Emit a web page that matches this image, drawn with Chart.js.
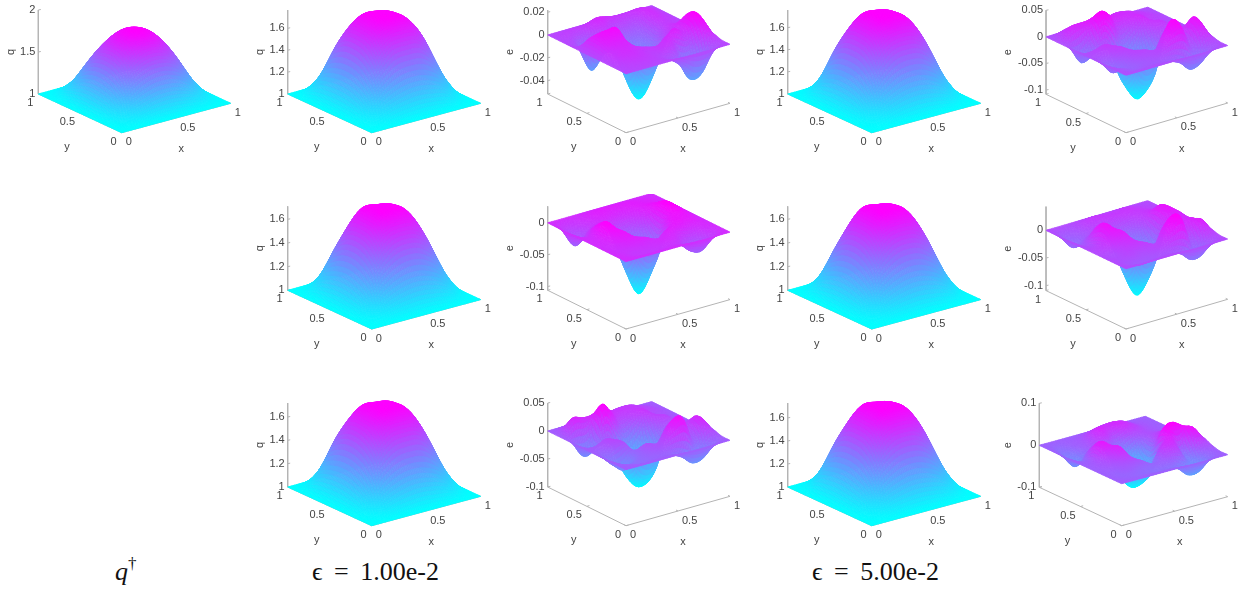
<!DOCTYPE html>
<html>
<head>
<meta charset="utf-8">
<title>q and e surfaces</title>
<script src="https://cdn.jsdelivr.net/npm/chart.js@4/dist/chart.umd.min.js"></script>
<style>
html, body { margin: 0; padding: 0; background: #fff; overflow: hidden; width: 1248px; height: 592px; }
canvas { position: absolute; }
.cap { position: absolute; top: 557px; font: 26px/30px 'Liberation Serif', 'DejaVu Serif', serif; color: #111; white-space: pre; word-spacing: 5px; }
.cap sup { font-size: 17px; line-height: 0; vertical-align: 11px; }
</style>
</head>
<body>
<span class="cap" style="left:115px"><i>q</i><sup>†</sup></span>
<span class="cap" style="left:312px">ϵ = 1.00e-2</span>
<span class="cap" style="left:812px">ϵ = 5.00e-2</span>
<script>
// heights, rows run along y, columns along x
var qExact = [
	[1,1,1,1,1,1,1,1,1],
	[1,1.07,1.16,1.22,1.24,1.22,1.16,1.07,1],
	[1,1.16,1.39,1.53,1.57,1.53,1.39,1.16,1],
	[1,1.22,1.53,1.72,1.78,1.72,1.53,1.22,1],
	[1,1.24,1.57,1.77,1.83,1.77,1.57,1.24,1],
	[1,1.22,1.53,1.71,1.77,1.70,1.53,1.22,1],
	[1,1.16,1.39,1.53,1.57,1.53,1.39,1.16,1],
	[1,1.07,1.16,1.22,1.24,1.22,1.16,1.07,1],
	[1,1,1,1,1,1,1,1,1]
];
var qRow1Eps1 = [
	[1,1,1,1,1,1,1,1,1],
	[1,1.07,1.17,1.22,1.24,1.22,1.17,1.06,1],
	[1,1.17,1.41,1.55,1.57,1.55,1.40,1.16,1],
	[1,1.23,1.56,1.72,1.75,1.72,1.55,1.22,1],
	[1,1.25,1.60,1.75,1.77,1.74,1.56,1.24,1],
	[1,1.24,1.58,1.74,1.75,1.70,1.55,1.22,1],
	[1,1.20,1.46,1.58,1.59,1.55,1.40,1.16,1],
	[1,1.09,1.20,1.25,1.25,1.22,1.17,1.07,1],
	[1,1,1,1,1,1,1,1,1]
];
var qRow2Eps1 = [
	[1,1,1,1,1,1,1,1,1],
	[1,1.06,1.16,1.21,1.23,1.21,1.16,1.06,1],
	[1,1.16,1.39,1.52,1.55,1.52,1.39,1.16,1],
	[1,1.21,1.52,1.70,1.72,1.70,1.52,1.21,1],
	[1,1.23,1.55,1.72,1.74,1.72,1.53,1.23,1],
	[1,1.21,1.52,1.71,1.715,1.67,1.50,1.21,1],
	[1,1.16,1.39,1.52,1.55,1.52,1.39,1.16,1],
	[1,1.06,1.16,1.21,1.23,1.21,1.16,1.06,1],
	[1,1,1,1,1,1,1,1,1]
];
var qRow3Eps1 = [
	[1,1,1,1,1,1,1,1,1],
	[1,1.06,1.16,1.21,1.23,1.21,1.16,1.06,1],
	[1,1.16,1.40,1.53,1.55,1.53,1.39,1.16,1],
	[1,1.22,1.53,1.70,1.72,1.70,1.52,1.21,1],
	[1,1.24,1.57,1.72,1.74,1.72,1.53,1.23,1],
	[1,1.23,1.55,1.715,1.72,1.68,1.50,1.21,1],
	[1,1.19,1.44,1.55,1.56,1.53,1.39,1.16,1],
	[1,1.08,1.19,1.24,1.24,1.21,1.16,1.06,1],
	[1,1,1,1,1,1,1,1,1]
];
var qRow1Eps5 = [
	[1,1,1,1,1,1,1,1,1],
	[1,1.06,1.16,1.22,1.24,1.22,1.16,1.06,1],
	[1,1.16,1.40,1.54,1.57,1.54,1.40,1.16,1],
	[1,1.22,1.55,1.72,1.75,1.72,1.54,1.22,1],
	[1,1.24,1.58,1.75,1.77,1.74,1.56,1.24,1],
	[1,1.23,1.56,1.74,1.75,1.70,1.54,1.22,1],
	[1,1.18,1.44,1.56,1.58,1.54,1.40,1.16,1],
	[1,1.07,1.18,1.23,1.24,1.22,1.16,1.06,1],
	[1,1,1,1,1,1,1,1,1]
];
var qRow2Eps5 = [
	[1,1,1,1,1,1,1,1,1],
	[1,1.06,1.16,1.21,1.23,1.21,1.16,1.06,1],
	[1,1.16,1.39,1.52,1.55,1.52,1.39,1.16,1],
	[1,1.21,1.52,1.70,1.72,1.70,1.52,1.21,1],
	[1,1.23,1.55,1.72,1.74,1.72,1.53,1.23,1],
	[1,1.21,1.52,1.71,1.715,1.67,1.50,1.21,1],
	[1,1.16,1.39,1.52,1.55,1.52,1.39,1.16,1],
	[1,1.06,1.16,1.21,1.23,1.21,1.16,1.06,1],
	[1,1,1,1,1,1,1,1,1]
];
var qRow3Eps5 = [
	[1,1,1,1,1,1,1,1,1],
	[1,1.06,1.16,1.21,1.23,1.21,1.16,1.06,1],
	[1,1.16,1.39,1.53,1.56,1.53,1.39,1.16,1],
	[1,1.21,1.53,1.71,1.73,1.71,1.53,1.21,1],
	[1,1.23,1.56,1.73,1.75,1.73,1.54,1.23,1],
	[1,1.22,1.54,1.725,1.73,1.68,1.51,1.21,1],
	[1,1.18,1.42,1.54,1.56,1.53,1.39,1.16,1],
	[1,1.07,1.17,1.22,1.23,1.21,1.16,1.06,1],
	[1,1,1,1,1,1,1,1,1]
];
// errors, in thousandths
var eRow1Eps1 = [
	[0,0,0,0,0,0,0,0,0,0,0],
	[0,2,3,2,0,-4,-12,-26,-24,-4,0],
	[0,5,6,4,2,4,2,-16,-12,12,2],
	[0,6,8,6,2,-2,6,10,4,20,3],
	[0,10,12,8,-20,-32,-22,2,6,16,2],
	[0,12,16,12,-34,-52,-36,-6,4,4,0],
	[0,8,4,-4,-24,-32,-22,-10,2,2,0],
	[0,-6,-26,-14,-6,-14,-14,-8,4,3,0],
	[0,-2,-12,0,4,-4,-4,-4,6,4,0],
	[0,2,2,4,8,6,4,4,6,4,0],
	[0,0,0,0,0,0,0,0,0,0,0]
];
var eRow2Eps1 = [
	[0,0,0,0,0,0,0,0,0,0,0],
	[0,-3,-6,-6,-5,-4,-8,-22,-26,-8,0],
	[0,-3,-4,-2,-2,0,0,-10,-14,-2,0],
	[0,-2,4,6,0,-12,2,8,6,4,0],
	[0,2,12,6,-42,-66,-48,4,12,8,0],
	[0,2,22,-8,-68,-104,-68,-12,20,12,0],
	[0,-2,14,0,-50,-64,-42,-8,20,12,0],
	[0,-14,0,2,-14,-24,-14,2,12,6,0],
	[0,-28,-14,-2,2,0,2,6,6,4,0],
	[0,-10,-6,2,6,6,6,6,4,2,0],
	[0,0,0,0,0,0,0,0,0,0,0]
];
var eRow3Eps1 = [
	[0,0,0,0,0,0,0,0,0,0,0],
	[0,-4,-8,-6,-4,-6,-14,-30,-30,-8,0],
	[0,-10,-14,-6,2,8,28,38,-6,22,4],
	[0,-18,-30,-8,2,-8,18,34,6,28,6],
	[0,-8,6,2,-55,-70,-52,16,4,12,2],
	[0,2,10,-10,-70,-90,-70,-12,6,6,0],
	[0,-14,-8,-8,-52,-66,-46,4,14,4,0],
	[0,-26,-16,48,24,-10,4,20,8,4,0],
	[0,28,24,30,32,20,18,18,12,6,0],
	[0,12,14,8,20,14,16,16,10,4,0],
	[0,0,0,0,0,0,0,0,0,0,0]
];
var eRow1Eps5 = [
	[0,0,0,0,0,0,0,0,0,0,0],
	[0,-6,-8,-6,-6,-8,-16,-34,-30,-6,0],
	[0,-8,-12,-6,0,8,26,34,-6,26,4],
	[0,-22,-10,6,2,-10,22,44,2,38,8],
	[0,-6,8,4,-50,-76,-60,18,4,14,2],
	[0,6,10,-12,-76,-108,-76,-14,4,6,0],
	[0,-14,-10,-10,-60,-72,-46,2,14,4,0],
	[0,-30,-10,44,30,-12,2,20,8,4,0],
	[0,20,26,34,38,24,20,18,12,6,0],
	[0,14,16,10,22,14,18,16,10,4,0],
	[0,0,0,0,0,0,0,0,0,0,0]
];
var eRow2Eps5 = [
	[0,0,0,0,0,0,0,0,0,0,0],
	[0,-6,-10,-8,-6,-6,-10,-26,-28,-6,0],
	[0,-2,2,-2,2,6,26,38,-12,24,4],
	[0,-2,8,14,4,-10,22,38,14,22,8],
	[0,8,26,20,-46,-72,-50,10,14,18,6],
	[0,4,36,-4,-72,-109,-72,-12,28,22,2],
	[0,-4,26,0,-50,-68,-46,-6,30,16,0],
	[0,-12,2,4,-14,-24,-14,4,14,8,0],
	[0,-22,-12,2,6,6,8,10,8,4,0],
	[0,-12,-6,6,10,8,8,10,6,2,0],
	[0,0,0,0,0,0,0,0,0,0,0]
];
var eRow3Eps5 = [
	[0,0,0,0,0,0,0,0,0,0,0],
	[0,-2,-4,-6,-8,-8,-14,-36,-36,-8,0],
	[0,-2,2,-2,-4,-2,8,6,-22,4,6],
	[0,2,8,14,0,-20,18,30,-4,42,14],
	[0,6,20,30,-45,-62,-48,40,52,36,6],
	[0,4,40,10,-62,-88,-62,4,30,8,2],
	[0,-8,22,8,-46,-58,-42,0,12,6,0],
	[0,-30,-6,12,14,-10,6,10,6,2,0],
	[0,-16,-2,8,30,24,28,20,8,2,0],
	[0,-6,0,4,14,20,22,18,6,2,0],
	[0,0,0,0,0,0,0,0,0,0,0]
];

var xyTicks = [0, 0.5, 1];
var zTicksQExact = [1, 1.5, 2];
var zTicksQ = [1, 1.2, 1.4, 1.6];
var zTicksE1 = [-0.04, -0.02, 0, 0.02];
var zTicksE2 = [-0.1, -0.05, 0];
var zTicksE3 = [-0.1, -0.05, 0, 0.05];
var zTicksE4 = [-0.1, 0, 0.1];

var TICK_COLOR = '#444444';
var AXIS_COLOR = '#b4b4b4';
var TICK_FONT = "11px 'Liberation Sans', Arial, sans-serif";

// column frames: front corner x, direction of the x axis and y axis, z label offset
var colQ1 = { ox: 121.7, ex: [109, -29.4], ey: [-83.4, -38.7], zl: -27 };
var colQ2 = { ox: 371.7, ex: [109, -29.4], ey: [-84, -38.7], zl: -28 };
var colE2 = { ox: 626, ex: [104, -29.4], ey: [-78.3, -38.7], zl: -38 };
var colQ4 = { ox: 871.7, ex: [109, -29.4], ey: [-84, -38.7], zl: -28 };
var colE5 = { ox: 1126, ex: [101.7, -29.7], ey: [-80, -38.4], zl: -38 };
var colE6 = { ox: 1121.7, ex: [106, -29], ey: [-82.4, -38.4], zl: -31 };
var ROW1 = 132.7, ROW2 = 329, ROW3 = 525.7;

function panel(col, oy, grid, scale, zRange, ticks, name, smooth) {
	return { col: col, oy: oy, grid: grid, scale: scale, zRange: zRange, ticks: ticks, name: name, smooth: smooth };
}

var panels = [
	panel(colQ1, ROW1, qExact, 1, [1, 2], zTicksQExact, 'q', 8),
	panel(colQ2, ROW1, qRow1Eps1, 1, [1, 1.767], zTicksQ, 'q', 8),
	panel(colE2, ROW1, eRow1Eps1, 0.001, [-0.0518, 0.0219], zTicksE1, 'e', 6),
	panel(colQ4, ROW1, qRow1Eps5, 1, [1, 1.76], zTicksQ, 'q', 8),
	panel(colE5, ROW1, eRow1Eps5, 0.001, [-0.108, 0.05], zTicksE3, 'e', 6),
	panel(colQ2, ROW2, qRow2Eps1, 1, [1, 1.71], zTicksQ, 'q', 8),
	panel(colE2, ROW2, eRow2Eps1, 0.001, [-0.106, 0.026], zTicksE2, 'e', 6),
	panel(colQ4, ROW2, qRow2Eps5, 1, [1, 1.71], zTicksQ, 'q', 8),
	panel(colE5, ROW2, eRow2Eps5, 0.001, [-0.109, 0.043], zTicksE2, 'e', 6),
	panel(colQ2, ROW3, qRow3Eps1, 1, [1, 1.72], zTicksQ, 'q', 8),
	panel(colE2, ROW3, eRow3Eps1, 0.001, [-0.1, 0.05], zTicksE3, 'e', 6),
	panel(colQ4, ROW3, qRow3Eps5, 1, [1, 1.73], zTicksQ, 'q', 8),
	panel(colE6, ROW3, eRow3Eps5, 0.001, [-0.1, 0.1], zTicksE4, 'e', 6)
];

// catmull-rom along one line, same idea as the line tension option
function smoothLine(vals, n) {
	var out = [];
	for (var i = 0; i < vals.length - 1; i++) {
		var a = vals[Math.max(i - 1, 0)], b = vals[i], c = vals[i + 1], d = vals[Math.min(i + 2, vals.length - 1)];
		for (var k = 0; k < n; k++) {
			var t = k / n;
			out.push(0.5 * (2 * b + (c - a) * t + (2 * a - 5 * b + 4 * c - d) * t * t + (3 * b - a - 3 * c + d) * t * t * t));
		}
	}
	out.push(vals[vals.length - 1]);
	return out;
}

function smoothGrid(grid, n) {
	var rows = grid.map(function (r) { return smoothLine(r, n); });
	var cols = [];
	for (var i = 0; i < rows[0].length; i++) {
		cols.push(smoothLine(rows.map(function (r) { return r[i]; }), n));
	}
	return cols; // cols[i][j], i along x, j along y
}

function coolColor(t) {
	t = Math.max(0, Math.min(1, t));
	return 'rgb(' + Math.round(255 * t) + ',' + Math.round(255 * (1 - t)) + ',255)';
}

var surfacePlugin = {
	id: 'surface',
	afterDatasetsDraw: function (chart) {
		var opt = chart.options.plugins.surface;
		var pts = chart.data.datasets[0].data;
		var n = opt.size, ctx = chart.ctx, sx = chart.scales.x, sy = chart.scales.y;
		function at(i, j) { return pts[i * n + j]; }
		ctx.save();
		ctx.lineWidth = 0.8;
		ctx.lineJoin = 'round';
		for (var i = n - 2; i >= 0; i--) {
			for (var j = n - 2; j >= 0; j--) {
				var q = [at(i, j), at(i + 1, j), at(i + 1, j + 1), at(i, j + 1)];
				var z = (q[0].z + q[1].z + q[2].z + q[3].z) / 4;
				var c = coolColor((z - opt.cmin) / (opt.cmax - opt.cmin));
				ctx.fillStyle = c;
				ctx.strokeStyle = c;
				ctx.beginPath();
				for (var k = 0; k < 4; k++) {
					var px = sx.getPixelForValue(q[k].x), py = sy.getPixelForValue(q[k].y);
					if (k == 0) ctx.moveTo(px, py); else ctx.lineTo(px, py);
				}
				ctx.closePath();
				ctx.fill();
				ctx.stroke();
			}
		}
		ctx.restore();
	}
};

var labelPlugin = {
	id: 'axisText',
	afterDraw: function (chart) {
		var opt = chart.options.plugins.axisText;
		var ctx = chart.ctx, sx = chart.scales.x, sy = chart.scales.y;
		ctx.save();
		ctx.font = TICK_FONT;
		ctx.fillStyle = TICK_COLOR;
		ctx.textBaseline = 'middle';
		opt.items.forEach(function (it) {
			var px = sx.getPixelForValue(it.x), py = sy.getPixelForValue(it.y);
			ctx.textAlign = it.align;
			if (it.rotate) {
				ctx.save();
				ctx.translate(px, py);
				ctx.rotate(-Math.PI / 2);
				ctx.fillText(it.text, 0, 0);
				ctx.restore();
			} else {
				ctx.fillText(it.text, px, py);
			}
		});
		ctx.restore();
	}
};

function drawPanel(p) {
	var W = 250, H = 165;
	var left = p.col.ox - 125, top = p.oy - 135;
	var hgt = 84;
	var cv = document.createElement('canvas');
	cv.width = W;
	cv.height = H;
	cv.style.left = Math.round(left) + 'px';
	cv.style.top = Math.round(top) + 'px';
	document.body.appendChild(cv);
	var dl = left - Math.round(left), dt = top - Math.round(top);

	function project(x, y, z) {
		var f = (z - p.zRange[0]) / (p.zRange[1] - p.zRange[0]);
		return {
			x: 125 + dl + x * p.col.ex[0] + y * p.col.ey[0],
			y: 135 + dt + x * p.col.ex[1] + y * p.col.ey[1] - f * hgt
		};
	}

	var fine = smoothGrid(p.grid, p.smooth);
	var n = fine.length;
	var mesh = [], cmin = Infinity, cmax = -Infinity;
	for (var i = 0; i < n; i++) {
		for (var j = 0; j < n; j++) {
			var z = fine[i][j] * p.scale;
			var pt = project(i / (n - 1), j / (n - 1), z);
			pt.z = z;
			mesh.push(pt);
			cmin = Math.min(cmin, z);
			cmax = Math.max(cmax, z);
		}
	}

	var zlo = p.zRange[0], zhi = p.zRange[1];
	var axisLine = [project(0, 1, zhi), project(0, 1, zlo), project(0, 0, zlo), project(1, 0, zlo)];
	var tickMarks = [], items = [];

	xyTicks.forEach(function (v) {
		var a = project(v, 0, zlo), b = project(v, 0.025, zlo);
		tickMarks.push(a, b, { x: NaN, y: NaN });
		items.push({ x: a.x + 4, y: a.y + 9.5, text: String(v), align: 'left' });
		a = project(0, v, zlo);
		b = project(0.025, v, zlo);
		tickMarks.push(a, b, { x: NaN, y: NaN });
		items.push({ x: a.x - 5, y: a.y + 9, text: String(v), align: 'right' });
	});
	p.ticks.forEach(function (v) {
		var a = project(0, 1, v);
		tickMarks.push(a, { x: a.x + 2.5, y: a.y - 0.5 }, { x: NaN, y: NaN });
		items.push({ x: a.x - 3, y: a.y, text: String(v), align: 'right' });
	});

	var xl = project(0.5, 0, zlo), yl = project(0, 0.5, zlo), zl = project(0, 1, (zlo + zhi) / 2);
	items.push({ x: xl.x + 5, y: xl.y + 31, text: 'x', align: 'center' });
	items.push({ x: yl.x - 13, y: yl.y + 34, text: 'y', align: 'center' });
	items.push({ x: zl.x + p.col.zl, y: zl.y, text: p.name, align: 'center', rotate: true });

	function lineSet(data) {
		return { data: data, showLine: true, borderColor: AXIS_COLOR, borderWidth: 1, pointRadius: 0, spanGaps: false };
	}

	new Chart(cv, {
		type: 'scatter',
		data: {
			datasets: [
				{ data: mesh, showLine: false, pointRadius: 0 },
				lineSet(axisLine),
				lineSet(tickMarks)
			]
		},
		plugins: [surfacePlugin, labelPlugin],
		options: {
			responsive: false,
			animation: false,
			events: [],
			layout: { padding: 0 },
			scales: {
				x: { type: 'linear', min: 0, max: W, display: false },
				y: { type: 'linear', min: 0, max: H, reverse: true, display: false }
			},
			plugins: {
				legend: { display: false },
				tooltip: { enabled: false },
				surface: { size: n, cmin: cmin, cmax: cmax },
				axisText: { items: items }
			}
		}
	});
}

panels.forEach(drawPanel);
</script>
</body>
</html>
